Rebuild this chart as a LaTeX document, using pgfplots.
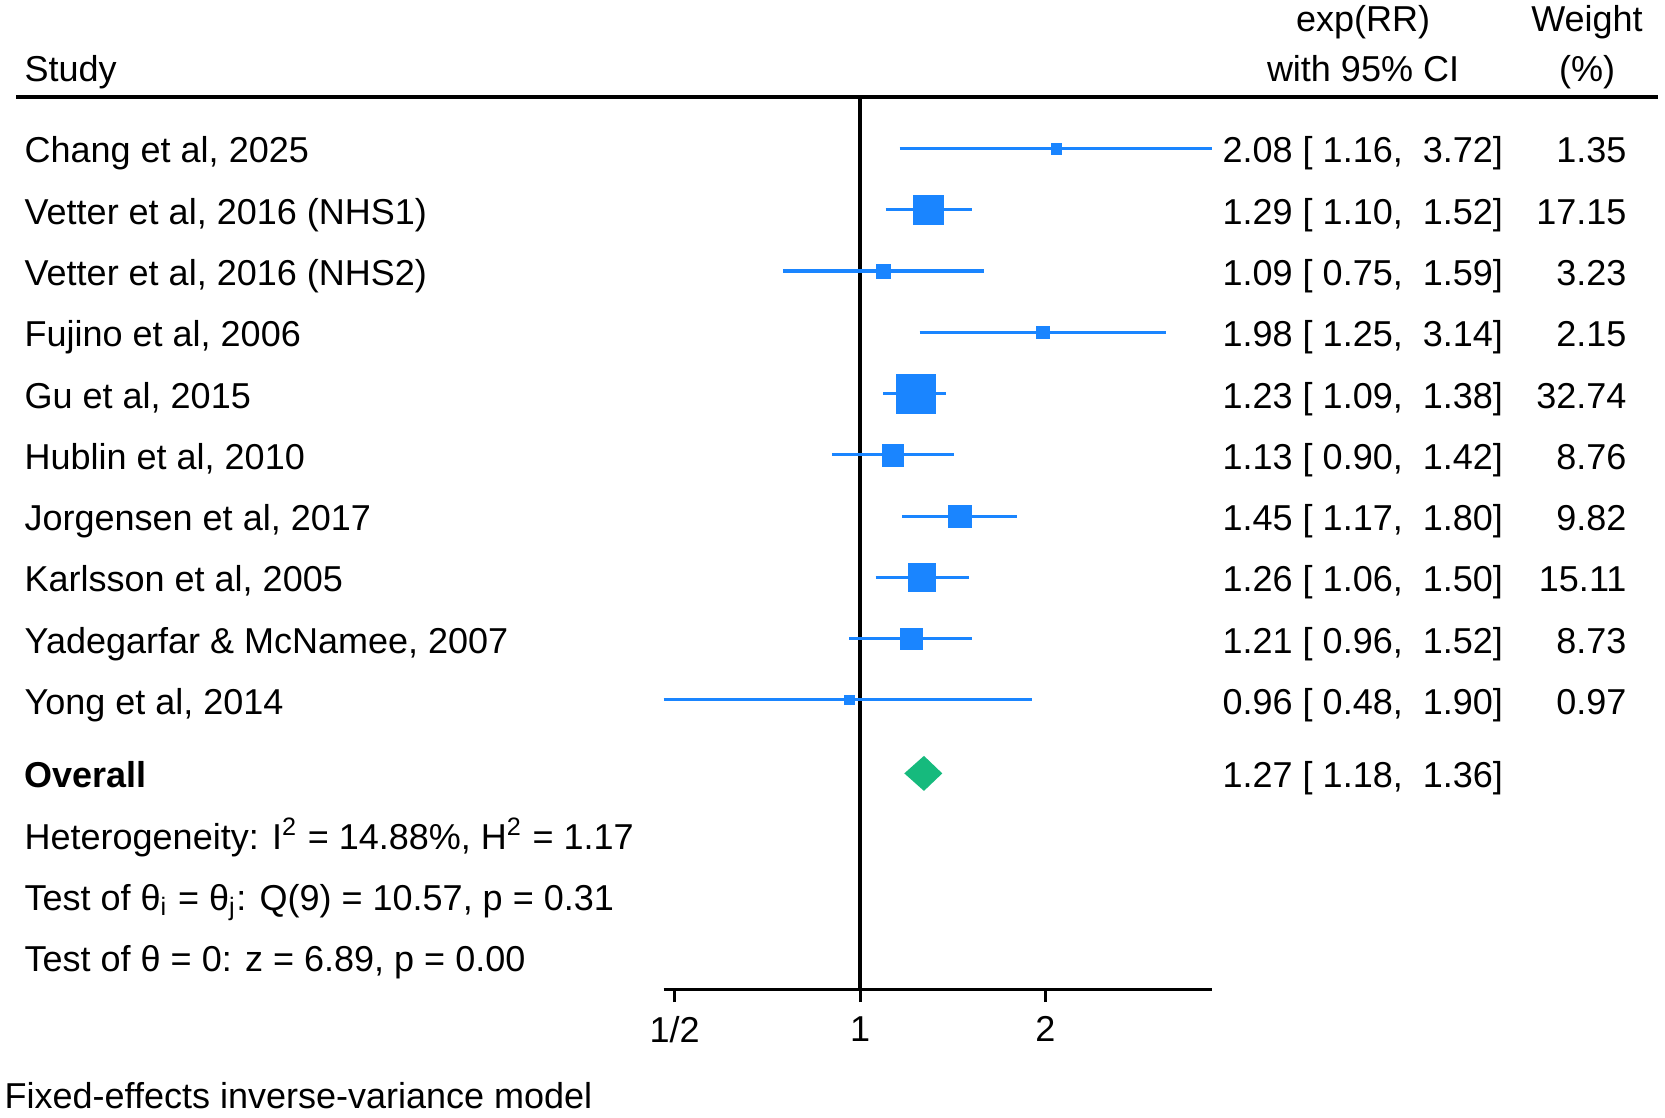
\documentclass[border=0pt]{standalone}
\usepackage{fontspec}
\setmainfont{Liberation Sans}
\usepackage{pgfplots}
\pgfplotsset{compat=1.18}
\usepackage{pgfplotstable}
\definecolor{stblue}{RGB}{26,133,255}
\definecolor{stgreen}{RGB}{22,186,125}
\pgfplotstableread{
row rr lo hi w
1 2.08 1.16 3.72 1.35
2 1.29 1.10 1.52 17.15
3 1.09 0.75 1.59 3.23
4 1.98 1.25 3.14 2.15
5 1.23 1.09 1.38 32.74
6 1.13 0.90 1.42 8.76
7 1.45 1.17 1.80 9.82
8 1.26 1.06 1.50 15.11
9 1.21 0.96 1.52 8.73
10 0.96 0.48 1.90 0.97
}\studies
\begin{document}
\fontsize{10.8pt}{13pt}\selectfont
\begin{tikzpicture}
\path[use as bounding box] (0,0) rectangle (499.5pt,335.1pt);
\begin{axis}[
  at={(199.08pt,38.4pt)}, anchor=south west,
  scale only axis, width=164.37pt, height=267.6pt,
  xmode=log, xmin=0.48, xmax=3.72,
  ymin=0.159, ymax=14.72, y dir=reverse,
  clip=false,
  axis x line=bottom, axis y line=none,
  axis line style={-, black, line width=0.9pt},
  xtick={0.5,1,2}, xticklabels={\mbox{1/2},\mbox{1},\mbox{2}},
  minor x tick num=0,
  ytick=\empty,
  tick align=outside, major tick length=3.9pt,
  xtick style={black, line width=0.9pt},
  xticklabel style={yshift=-0.5pt},
]
\addplot[black, line width=0.95pt] coordinates {(1,0.159) (1,14.72)};
\addplot[stblue, line width=0.95pt] coordinates {(1.16,1) (3.72,1)};
\addplot[stblue, line width=0.95pt] coordinates {(1.10,2) (1.52,2)};
\addplot[stblue, line width=0.95pt] coordinates {(0.75,3) (1.59,3)};
\addplot[stblue, line width=0.95pt] coordinates {(1.25,4) (3.14,4)};
\addplot[stblue, line width=0.95pt] coordinates {(1.09,5) (1.38,5)};
\addplot[stblue, line width=0.95pt] coordinates {(0.90,6) (1.42,6)};
\addplot[stblue, line width=0.95pt] coordinates {(1.17,7) (1.80,7)};
\addplot[stblue, line width=0.95pt] coordinates {(1.06,8) (1.50,8)};
\addplot[stblue, line width=0.95pt] coordinates {(0.96,9) (1.52,9)};
\addplot[stblue, line width=0.95pt] coordinates {(0.48,10) (1.90,10)};
\addplot[color=stblue, scatter, only marks, mark=square*,
  mark options={draw=stblue, fill=stblue, line width=0.1pt},
  scatter/use mapped color={draw=stblue, fill=stblue},
  visualization depends on={0.9405*sqrt(\thisrow{w})+0.48 \as \msize},
  scatter/@pre marker code/.append style={/tikz/mark size=\msize}]
  table[x=rr, y=row] {\studies};
\addplot[fill=stgreen, draw=none] coordinates {(1.18,11.2) (1.27,10.914) (1.36,11.2) (1.27,11.486)} -- cycle;
\end{axis}
\begin{scope}[x=0.3pt, y=-0.3pt, shift={(0pt,335.1pt)}, every node/.style={inner sep=0pt}]
\draw[line width=1pt] (16,97) -- (1658,97);
\node[anchor=base west] at (24,82) {Study};
\node[anchor=base] at (1363,32) {exp(RR)};
\node[anchor=base] at (1363,82) {with 95\% CI};
\node[anchor=base] at (1587,32) {Weight};
\node[anchor=base] at (1587,82) {(\%)};
% study names
\node[anchor=base west] at (24,163) {Chang et al, 2025};
\node[anchor=base west] at (24,224.25) {Vetter et al, 2016 (NHS1)};
\node[anchor=base west] at (24,285.5) {Vetter et al, 2016 (NHS2)};
\node[anchor=base west] at (24,346.75) {Fujino et al, 2006};
\node[anchor=base west] at (24,408) {Gu et al, 2015};
\node[anchor=base west] at (24,469.25) {Hublin et al, 2010};
\node[anchor=base west] at (24,530.5) {Jorgensen et al, 2017};
\node[anchor=base west] at (24,591.75) {Karlsson et al, 2005};
\node[anchor=base west] at (24,653) {Yadegarfar \& McNamee, 2007};
\node[anchor=base west] at (24,714.25) {Yong et al, 2014};
% estimates
\node[anchor=base west] at (1222,163) {2.08 [ 1.16,\ \ 3.72]};
\node[anchor=base west] at (1222,224.25) {1.29 [ 1.10,\ \ 1.52]};
\node[anchor=base west] at (1222,285.5) {1.09 [ 0.75,\ \ 1.59]};
\node[anchor=base west] at (1222,346.75) {1.98 [ 1.25,\ \ 3.14]};
\node[anchor=base west] at (1222,408) {1.23 [ 1.09,\ \ 1.38]};
\node[anchor=base west] at (1222,469.25) {1.13 [ 0.90,\ \ 1.42]};
\node[anchor=base west] at (1222,530.5) {1.45 [ 1.17,\ \ 1.80]};
\node[anchor=base west] at (1222,591.75) {1.26 [ 1.06,\ \ 1.50]};
\node[anchor=base west] at (1222,653) {1.21 [ 0.96,\ \ 1.52]};
\node[anchor=base west] at (1222,714.25) {0.96 [ 0.48,\ \ 1.90]};
% weights
\node[anchor=base east] at (1627,163) {1.35};
\node[anchor=base east] at (1627,224.25) {17.15};
\node[anchor=base east] at (1627,285.5) {3.23};
\node[anchor=base east] at (1627,346.75) {2.15};
\node[anchor=base east] at (1627,408) {32.74};
\node[anchor=base east] at (1627,469.25) {8.76};
\node[anchor=base east] at (1627,530.5) {9.82};
\node[anchor=base east] at (1627,591.75) {15.11};
\node[anchor=base east] at (1627,653) {8.73};
\node[anchor=base east] at (1627,714.25) {0.97};
% overall
\node[anchor=base west] at (24,787) {\bfseries Overall};
\node[anchor=base west] at (1222,787) {1.27 [ 1.18,\ \ 1.36]};
\node[anchor=base west] at (24,849) {Heterogeneity: I\textsuperscript{2} = 14.88\%, H\textsuperscript{2} = 1.17};
\node[anchor=base west] at (24,910) {Test of θ\textsubscript{i} = θ\textsubscript{j}: Q(9) = 10.57, p = 0.31};
\node[anchor=base west] at (24,971) {Test of θ = 0: z = 6.89, p = 0.00};
\node[anchor=base west] at (4,1108) {Fixed-effects inverse-variance model};
\end{scope}
\end{tikzpicture}
\end{document}
